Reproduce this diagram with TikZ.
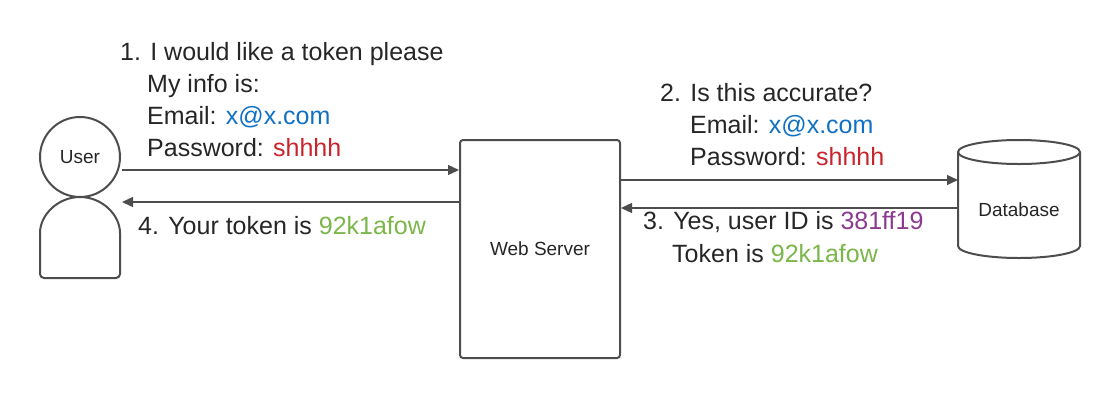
\documentclass[tikz,border=0pt]{standalone}
\usepackage{fontspec}
\setmainfont{Liberation Sans}
\usetikzlibrary{arrows.meta}
\definecolor{lblue}{HTML}{1071C4}
\definecolor{lred}{HTML}{C9232C}
\definecolor{lgreen}{HTML}{7AB648}
\definecolor{lpurple}{HTML}{8B3A8F}
\definecolor{lline}{HTML}{4D4D4D}
\begin{document}
\begin{tikzpicture}[x=1pt,y=-1pt,
  shp/.style={draw=lline,line width=2pt,fill=white},
  arr/.style={draw=lline,line width=1.3pt,-{Triangle[length=11pt,width=10pt]}},
  txt/.style={anchor=base west,font=\fontsize{25}{29}\selectfont,inner sep=0pt,text=black!85},
  lbl/.style={font=\fontsize{19}{22}\selectfont,text=black!85}]
\useasboundingbox (0,0) rectangle (1120,400);
% user
\node[shp,circle,minimum size=80pt,inner sep=0pt,lbl] (head) at (80,157) {User};
\draw[shp,rounded corners=4pt] (40,278) -- (40,237) arc[start angle=180,end angle=360,radius=40] -- (120,278) -- cycle;
\coordinate (u1) at (122,170);
\coordinate (u2) at (122,202);
% web server
\node[shp,rounded corners=3pt,minimum width=160pt,minimum height=218pt,lbl] (ws) at (540,249) {Web Server};
% database
\draw[shp] (958,152) -- (958,246) arc[start angle=180,end angle=0,x radius=61,y radius=12] -- (1080,152) arc[start angle=0,end angle=-180,x radius=61,y radius=12] -- cycle;
\draw[shp] (958,152) arc[start angle=180,end angle=0,x radius=61,y radius=12];
\node[lbl] (db) at (1019,210) {Database};
\draw[arr] (u1) -- (u1 -| ws.west);
\draw[arr] (u2 -| ws.west) -- (u2);
\draw[arr] (ws.east |- 0,180) -- (958,180);
\draw[arr] (958,208) -- (ws.east |- 0,208);
% texts
\node[txt] at (120,60) {1. I would like a token please};
\node[txt] at (147,92) {My info is:};
\node[txt] at (147,124) {Email: \textcolor{lblue}{x@x.com}};
\node[txt] at (147,156) {Password: \textcolor{lred}{shhhh}};
\node[txt] at (660,101) {2. Is this accurate?};
\node[txt] at (690,133) {Email: \textcolor{lblue}{x@x.com}};
\node[txt] at (690,165) {Password: \textcolor{lred}{shhhh}};
\node[txt] at (643,229) {3. Yes, user ID is \textcolor{lpurple}{381ff19}};
\node[txt] at (672,262) {Token is \textcolor{lgreen}{92k1afow}};
\node[txt] at (138,234) {4. Your token is \textcolor{lgreen}{92k1afow}};
\end{tikzpicture}
\end{document}
